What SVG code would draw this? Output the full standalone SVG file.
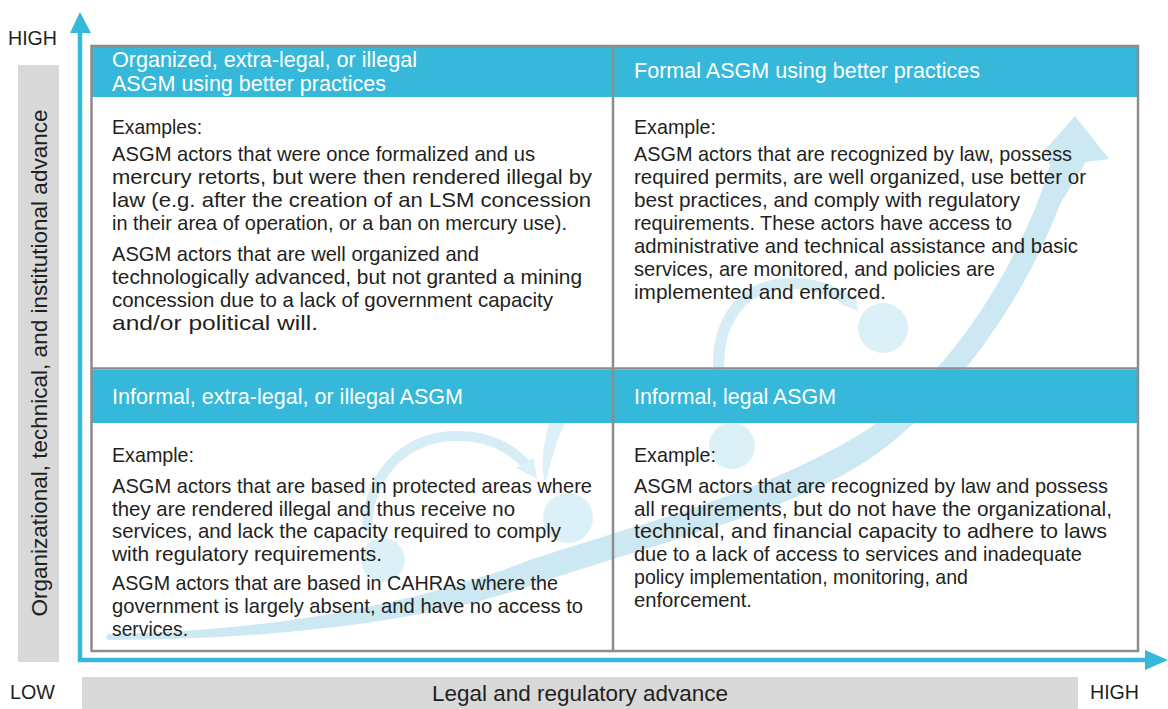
<svg xmlns="http://www.w3.org/2000/svg" width="1168" height="709" viewBox="0 0 1168 709">
<style>
text{font-family:"Liberation Sans",Arial,sans-serif}
.b{font-size:21px;fill:#231f20}
.h{font-size:22px;fill:#ffffff}
.ax{font-size:20px;fill:#231f20}
.al{font-size:22px;fill:#231f20}
.hdr{fill:#35b8d9}
.bar{fill:#d9d9d9}
.grid{fill:none;stroke:#8c8c8c;stroke-width:2.5}
.axis{stroke:#35b8d9;stroke-width:4.5;fill:none}
.axh{fill:#35b8d9}
.sw{fill:#cce8f2}
.lp{fill:#dcf0f7}
.lps{fill:none;stroke:#d6edf6}
</style>
<rect x="0" y="0" width="1168" height="709" fill="#ffffff"/>

<g id="axis-bars">
<rect class="bar" x="18" y="65" width="41" height="597"/>
<rect class="bar" x="82" y="677" width="996" height="32"/>
</g>

<g id="swoosh">
<path class="sw" d="M106,637 L108,634 C250,632 400,610 530,560 C650,520 760,495 862,433 C930,392 1000,300 1040,196 L1050,165 L1045,150 L1075,116 L1109,159 L1086,162 L1060,204 C1020,310 950,400 878,453 C800,510 650,545 536,584 C420,625 250,640 108,640 Z"/>
<path class="lps" stroke-width="10" stroke-linecap="round" d="M367,526 C370,470 408,437 455,436 C490,435 514,450 527,466"/>
<polygon class="lp" points="516,468 534,458 537,479"/>
<path class="lp" d="M544,480 C541,460 544,440 550,420 L566,420 C557,440 551,460 546,480 Z"/>
<path class="lps" stroke-width="11" d="M719,372 C716,330 735,290 780,284 C812,281 836,291 849,302"/>
<polygon class="lp" points="840,304 856,296 858,311"/>
<circle class="lp" cx="383" cy="560" r="22"/>
<circle class="lp" cx="568" cy="518" r="25"/>
<circle class="lp" cx="732" cy="446" r="23"/>
<circle class="lp" cx="883" cy="328" r="25"/>
</g>

<g id="q-top-left">
<rect class="hdr" x="92" y="47" width="521" height="50"/>
<text class="h" x="112" y="67" textLength="305" lengthAdjust="spacingAndGlyphs">Organized, extra-legal, or illegal</text>
<text class="h" x="112" y="91" textLength="274" lengthAdjust="spacingAndGlyphs">ASGM using better practices</text>
<text class="b" x="112" y="134" textLength="90" lengthAdjust="spacingAndGlyphs">Examples:</text>
<text class="b" x="112" y="161" textLength="423" lengthAdjust="spacingAndGlyphs">ASGM actors that were once formalized and us</text>
<text class="b" x="112" y="184" textLength="480" lengthAdjust="spacingAndGlyphs">mercury retorts, but were then rendered illegal by</text>
<text class="b" x="112" y="207" textLength="479" lengthAdjust="spacingAndGlyphs">law (e.g. after the creation of an LSM concession</text>
<text class="b" x="112" y="230" textLength="455" lengthAdjust="spacingAndGlyphs">in their area of operation, or a ban on mercury use).</text>
<text class="b" x="112" y="261" textLength="367" lengthAdjust="spacingAndGlyphs">ASGM actors that are well organized and</text>
<text class="b" x="112" y="284" textLength="470" lengthAdjust="spacingAndGlyphs">technologically advanced, but not granted a mining</text>
<text class="b" x="112" y="307" textLength="441" lengthAdjust="spacingAndGlyphs">concession due to a lack of government capacity</text>
<text class="b" x="112" y="330" textLength="206" lengthAdjust="spacingAndGlyphs">and/or political will.</text>
</g>

<g id="q-top-right">
<rect class="hdr" x="613" y="47" width="525" height="50"/>
<text class="h" x="634" y="78" textLength="346" lengthAdjust="spacingAndGlyphs">Formal ASGM using better practices</text>
<text class="b" x="634" y="134" textLength="82" lengthAdjust="spacingAndGlyphs">Example:</text>
<text class="b" x="634" y="161" textLength="438" lengthAdjust="spacingAndGlyphs">ASGM actors that are recognized by law, possess</text>
<text class="b" x="634" y="184" textLength="452" lengthAdjust="spacingAndGlyphs">required permits, are well organized, use better or</text>
<text class="b" x="634" y="207" textLength="386" lengthAdjust="spacingAndGlyphs">best practices, and comply with regulatory</text>
<text class="b" x="634" y="230" textLength="378" lengthAdjust="spacingAndGlyphs">requirements. These actors have access to</text>
<text class="b" x="634" y="253" textLength="444" lengthAdjust="spacingAndGlyphs">administrative and technical assistance and basic</text>
<text class="b" x="634" y="276" textLength="361" lengthAdjust="spacingAndGlyphs">services, are monitored, and policies are</text>
<text class="b" x="634" y="299" textLength="252" lengthAdjust="spacingAndGlyphs">implemented and enforced.</text>
</g>

<g id="q-bottom-left">
<rect class="hdr" x="92" y="370" width="521" height="53"/>
<text class="h" x="112" y="404" textLength="351" lengthAdjust="spacingAndGlyphs">Informal, extra-legal, or illegal ASGM</text>
<text class="b" x="112" y="462" textLength="82" lengthAdjust="spacingAndGlyphs">Example:</text>
<text class="b" x="112" y="493" textLength="480" lengthAdjust="spacingAndGlyphs">ASGM actors that are based in protected areas where</text>
<text class="b" x="112" y="515.5" textLength="403" lengthAdjust="spacingAndGlyphs">they are rendered illegal and thus receive no</text>
<text class="b" x="112" y="538" textLength="449" lengthAdjust="spacingAndGlyphs">services, and lack the capacity required to comply</text>
<text class="b" x="112" y="560.5" textLength="270" lengthAdjust="spacingAndGlyphs">with regulatory requirements.</text>
<text class="b" x="112" y="590" textLength="446" lengthAdjust="spacingAndGlyphs">ASGM actors that are based in CAHRAs where the</text>
<text class="b" x="112" y="613" textLength="471" lengthAdjust="spacingAndGlyphs">government is largely absent, and have no access to</text>
<text class="b" x="112" y="636" textLength="76" lengthAdjust="spacingAndGlyphs">services.</text>
</g>

<g id="q-bottom-right">
<rect class="hdr" x="613" y="370" width="525" height="53"/>
<text class="h" x="634" y="404" textLength="202" lengthAdjust="spacingAndGlyphs">Informal, legal ASGM</text>
<text class="b" x="634" y="462" textLength="82" lengthAdjust="spacingAndGlyphs">Example:</text>
<text class="b" x="634" y="493" textLength="474" lengthAdjust="spacingAndGlyphs">ASGM actors that are recognized by law and possess</text>
<text class="b" x="634" y="515.5" textLength="478" lengthAdjust="spacingAndGlyphs">all requirements, but do not have the organizational,</text>
<text class="b" x="634" y="538" textLength="473" lengthAdjust="spacingAndGlyphs">technical, and financial capacity to adhere to laws</text>
<text class="b" x="634" y="561" textLength="448" lengthAdjust="spacingAndGlyphs">due to a lack of access to services and inadequate</text>
<text class="b" x="634" y="584" textLength="334" lengthAdjust="spacingAndGlyphs">policy implementation, monitoring, and</text>
<text class="b" x="634" y="607" textLength="118" lengthAdjust="spacingAndGlyphs">enforcement.</text>
</g>

<g id="grid">
<rect class="grid" x="91.5" y="46" width="1046.5" height="605"/>
<line class="grid" x1="613" y1="46" x2="613" y2="651"/>
<line class="grid" x1="91.5" y1="368.5" x2="1138" y2="368.5"/>
</g>

<g id="connectors">
<polyline class="axis" points="80,30 80,660 1148,660"/>
<polygon class="axh" points="80,12 70,33 91,33"/>
<polygon class="axh" points="1168,660 1145,650 1145,670"/>
</g>

<g id="axis-labels">
<text class="ax" x="8" y="45" textLength="49" lengthAdjust="spacingAndGlyphs">HIGH</text>
<text class="ax" x="10" y="699" textLength="45" lengthAdjust="spacingAndGlyphs">LOW</text>
<text class="ax" x="1090" y="699" textLength="49" lengthAdjust="spacingAndGlyphs">HIGH</text>
<text class="al" x="580" y="701" text-anchor="middle" textLength="296" lengthAdjust="spacingAndGlyphs">Legal and regulatory advance</text>
<text class="al" x="47" y="363" text-anchor="middle" transform="rotate(-90 47 363)" textLength="507" lengthAdjust="spacingAndGlyphs">Organizational, technical, and institutional advance</text>
</g>
</svg>
